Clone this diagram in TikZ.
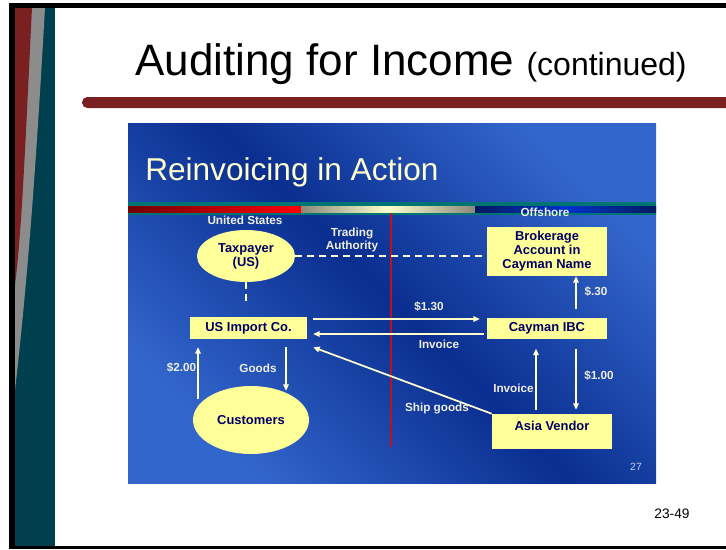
\documentclass[tikz,border=0pt]{standalone}
\usepackage{fontspec}
\setmainfont{Liberation Sans}
\usetikzlibrary{arrows.meta, positioning, shapes.geometric, calc}
\definecolor{panellight}{HTML}{3366CC}
\definecolor{paneldark}{HTML}{0A2E90}
\definecolor{boxfill}{HTML}{FFFF99}
\definecolor{boxtext}{HTML}{000066}
\definecolor{cream}{HTML}{FFFFCC}
\definecolor{lbltext}{HTML}{EEEEDD}
\definecolor{barred}{HTML}{7B2020}
\definecolor{stripteal}{HTML}{00404E}
\definecolor{stripgrey}{HTML}{8C8C8C}
\definecolor{divred}{HTML}{C0101C}
\definecolor{bandteal}{HTML}{007472}
\definecolor{bandnavy}{HTML}{001A5E}
\definecolor{bandblue}{HTML}{0033CC}
\definecolor{bandgrey}{HTML}{8A8A7A}
\definecolor{pagegrey}{HTML}{C8D0E8}

\begin{document}
\begin{tikzpicture}[x=0.75pt, y=-0.75pt,
    box/.style={rectangle, fill=boxfill, text=boxtext,
                font=\fontsize{9.7}{10.5}\selectfont\bfseries,
                align=center, inner sep=0pt, minimum width=90pt},
    oval/.style={ellipse, fill=boxfill, text=boxtext,
                 font=\fontsize{9.7}{10.5}\selectfont\bfseries,
                 align=center, inner sep=0pt},
    lbl/.style={text=lbltext, font=\fontsize{8.8}{9.8}\selectfont\bfseries,
                inner sep=0pt, align=center},
    flow/.style={draw=cream, line width=1.3pt, -{Triangle[length=4.8pt, width=4.2pt]}},
    link/.style={draw=cream, line width=1.5pt, dash pattern=on 5.25pt off 3.75pt}
  ]
  \useasboundingbox (0,0) rectangle (726,550);
  \fill[white] (0,0) rectangle (726,550);

  % frame and side strip
  \fill[black] (9,3) rectangle (726,8);
  \fill[black] (9,3) rectangle (15,548.5);
  \fill[black] (9,545.5) rectangle (726,548.5);
  \fill[stripteal] (15,8) rectangle (55,545.5);
  \fill[stripgrey] (15,8) -- (45,8) .. controls (38,130) and (30,260) .. (15,390) -- cycle;
  \fill[barred] (15,8) -- (32,8) .. controls (26,130) and (22,230) .. (15,285) -- cycle;

  % title
  \node[anchor=base west, inner sep=0pt, font=\fontsize{33}{36}\selectfont] (title) at (135,75)
    {Auditing for Income \fontsize{24}{28}\selectfont(continued)};
  \fill[barred, rounded corners=4pt] (82,97) rectangle (740,108);

  % panel
  \shade[top color=panellight, bottom color=panellight, middle color=paneldark, shading angle=-45]
    (128,123) rectangle (656,483);
  \node[anchor=base west, inner sep=0pt, text=cream, font=\fontsize{23.7}{26}\selectfont] (subtitle)
    at (145,180) {Reinvoicing in Action};
  \fill[bandteal] (128,202) rectangle (656,215);
  \shade[left color=red!45!black, right color=red] (128,206) rectangle (301,212);
  \shade[left color=bandgrey, right color=bandgrey, middle color=cream] (301,206) rectangle (475,212);
  \shade[left color=bandnavy, right color=bandnavy, middle color=bandblue] (475,206) rectangle (656,212);
  \draw[divred, line width=2pt] (391,213) -- (391,447);

  % parties
  \node[oval, minimum width=73.5pt, minimum height=39pt] (taxp) at (246,256) {Taxpayer\\(US)};
  \node[box, minimum width=87.75pt, minimum height=16.5pt] (usimp) at (248.5,328) {US Import Co.};
  \node[box, minimum height=15.75pt] (cayman) at (547,328) {Cayman IBC};
  \node[box, minimum height=36.75pt] (broker) at (547,251.5) {Brokerage\\Account in\\Cayman Name};
  \node[box, minimum height=26.25pt, text depth=9pt] (asia) at (552,431.5) {Asia Vendor};
  \node[oval, minimum width=87pt, minimum height=51pt] (cust) at (251,420) {Customers};

  % flows
  \draw[link] (taxp.east) -- (taxp.east -| broker.west);
  \draw[link, shorten >=9pt] (taxp.south) -- (taxp.south |- usimp.north);
  \draw[flow] ($(usimp.east)+(6,-9)$) -- ($(cayman.west)+(-7,-9)$);
  \draw[flow] ($(cayman.west)+(-3,6)$) -- ($(usimp.east)+(6,6)$);
  \draw[flow] ($(cayman.north)+(29,-8)$) -- ($(broker.south)+(29,0)$);
  \draw[flow] ($(asia.north)+(-16,-4)$) -- ($(cayman.south)+(-11,10)$);
  \draw[flow] ($(cayman.south)+(29,10)$) -- ($(asia.north)+(24,-4)$);
  \draw[flow] (asia.north west) -- ($(usimp.south east)+(6,8)$);
  \draw[flow] ($(cust.north)+(-53,13)$) -- ($(usimp.south)+(-50.5,8)$);
  \draw[flow] ($(usimp.south)+(37.5,8)$) -- ($(cust.north)+(35,5)$);

  % labels
  \node[lbl] (lus) at (245,220) {United States};
  \node[lbl] (loff) at (545,212) {Offshore};
  \node[lbl] (ltrade) at (352,239.5) {Trading\\Authority};
  \node[lbl] (l130) at (429,307) {\$1.30};
  \node[lbl] (linv1) at (439,344) {Invoice};
  \node[lbl] (l30) at (596,292) {\$.30};
  \node[lbl] (linv2) at (513.5,388) {Invoice};
  \node[lbl] (l100) at (599,376) {\$1.00};
  \node[lbl] (lship) at (437,408) {Ship goods};
  \node[lbl] (l200) at (181.5,368) {\$2.00};
  \node[lbl] (lgoods) at (258,368) {Goods};

  \node[inner sep=0pt, text=pagegrey, font=\fontsize{7.8}{9}\selectfont] (pgno) at (636,467) {27};
  \node[inner sep=0pt, font=\fontsize{10.3}{12}\selectfont] (slideno) at (672,514) {23-49};
\end{tikzpicture}
\end{document}
